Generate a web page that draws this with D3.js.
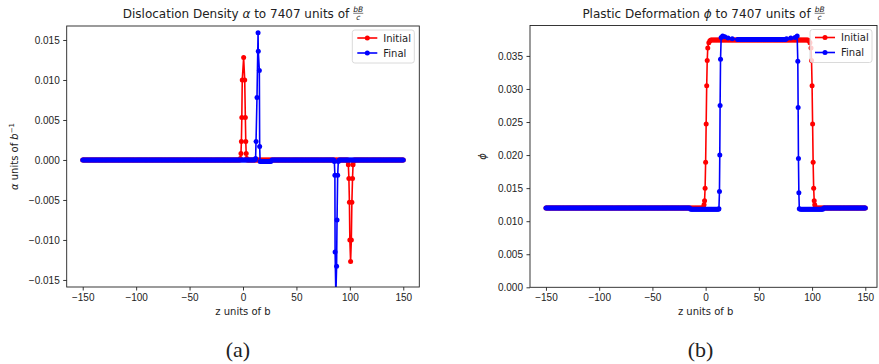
<!DOCTYPE html>
<html>
<head>
  <meta charset="utf-8">
  <title>Dislocation density and plastic deformation</title>
  <script src="https://d3js.org/d3.v7.min.js"></script>
  <style>
    body { margin: 0; background: #fff; }
    svg { font-family: "DejaVu Sans", sans-serif; color: #222; }
    .tick text { font-size: 10px; fill: #222; }
    .tick line { stroke: #222; stroke-width: 0.9; }
    .frame { fill: none; stroke: #222; stroke-width: 0.9; }
    .lbl { font-size: 10px; fill: #222; }
    .ttl { font-size: 12px; fill: #222; }
    .sub { font-family: "Liberation Serif", serif; font-size: 22px; fill: #222; }
  </style>
</head>
<body>
  <div id="chart"></div>
  <script>
    // solver grid along z (units of b)
    var zFrom = -150, zTo = 150, zStep = 1;

    var xTicks = [-150, -100, -50, 0, 50, 100, 150];
    var alphaTicks = [-0.015, -0.010, -0.005, 0.000, 0.005, 0.010, 0.015];
    var phiTicks = [0.000, 0.005, 0.010, 0.015, 0.020, 0.025, 0.030, 0.035];
    var seriesNames = ["Initial", "Final"];

    // flat stretches: [z from, z to, value]
    var alphaInitLevels = [[-150, 150, 0]];
    var alphaFinalLevels = [[-150, 16, 0], [16, 26, -0.0002], [26, 150, 0]];
    var phiInitLevels = [[-150, 0, 0.0120], [0, 100, 0.0374], [100, 150, 0.0120]];
    var phiFinalLevels = [[-150, -15, 0.0120], [-15, 12, 0.0118], [12, 87, 0.0375], [87, 110, 0.0118], [110, 150, 0.0120]];

    // spikes and steps: [z, value]
    var alphaInitUp = [[-2.5, 0.0002], [-1.9, 0.0008], [-1.5, 0.0023], [-1.1, 0.0053], [-0.7, 0.0100], [0.6, 0.0128],
                       [1.6, 0.0100], [2.2, 0.0053], [2.6, 0.0023], [3.0, 0.0008], [3.5, 0.0002]];
    var alphaInitDown = [[98.2, -0.0002], [98.6, -0.0006], [99.1, -0.0023], [99.6, -0.0053], [100.0, -0.0100], [100.7, -0.0127],
                         [101.4, -0.0100], [101.9, -0.0053], [102.5, -0.0023], [103.0, -0.0006], [103.4, -0.0002]];
    var alphaFinalUp = [[11.8, 0.0002], [12.2, 0.0023], [13.1, 0.0078], [14.1, 0.0159], [14.3, 0.0136],
                        [15.3, 0.0112], [15.6, 0.0017], [16.0, -0.0002]];
    var alphaFinalDown = [[85.5, -0.0002], [86.0, -0.0019], [86.2, -0.0115], [86.9, -0.0170], [87.6, -0.0133],
                          [88.0, -0.0075], [88.6, -0.0019], [89.2, -0.0002]];
    var phiInitRise = [[-2, 0.0121], [-1.5, 0.0125], [-1, 0.0131], [-0.5, 0.0150], [0, 0.0189], [0.5, 0.0247],
                       [1, 0.0305], [1.5, 0.0343], [2, 0.0362], [3, 0.0370], [4, 0.0373], [5, 0.0374]];
    var phiInitFall = [[96, 0.0374], [97, 0.0373], [98, 0.0370], [99, 0.0362], [99.5, 0.0343], [100, 0.0305],
                       [100.5, 0.0247], [101, 0.0189], [101.5, 0.0150], [102, 0.0131], [102.5, 0.0125], [103, 0.0121]];
    var phiFinalRise = [[12.5, 0.0119], [13, 0.0145], [13.3, 0.0200], [13.6, 0.0275], [14, 0.0345], [14.6, 0.0378],
                        [16, 0.0380], [18, 0.0379], [21, 0.0377], [25, 0.0376], [30, 0.0375]];
    var phiFinalFall = [[76, 0.0376], [80, 0.0377], [84, 0.0378], [86, 0.0380], [86.6, 0.0342], [86.9, 0.0272],
                        [87.2, 0.0195], [87.6, 0.0143], [88, 0.0119]];

    var colors = ["#ff0000", "#0000ff"];

    function buildSeries(levels, features) {
      var pts = [];
      d3.range(zFrom, zTo + zStep / 2, zStep).forEach(function(z) {
        var inside = features.some(f => z >= f[0][0] && z <= f[f.length - 1][0]);
        if (inside) return;
        var lv = levels.find(l => z >= l[0] && z <= l[1]);
        if (lv) pts.push([z, lv[2]]);
      });
      features.forEach(f => pts.push.apply(pts, f));
      return pts.sort((a, b) => a[0] - b[0]);
    }

    var svg = d3.select("#chart").append("svg")
      .attr("width", 879).attr("height", 364);

    function panel(opt) {
      var g = svg.append("g");
      var x = d3.scaleLinear().domain(opt.xDomain).range([opt.left, opt.right]);
      var y = d3.scaleLinear().domain(opt.yDomain).range([opt.bottom, opt.top]);

      var clipId = "clip" + opt.id;
      svg.append("clipPath").attr("id", clipId).append("rect")
        .attr("x", opt.left).attr("y", opt.top)
        .attr("width", opt.right - opt.left).attr("height", opt.bottom - opt.top);

      var line = d3.line().x(d => x(d[0])).y(d => y(d[1]));
      var plot = g.append("g").attr("clip-path", "url(#" + clipId + ")");
      opt.series.forEach(function(s, i) {
        plot.append("path").datum(s)
          .attr("fill", "none").attr("stroke", colors[i]).attr("stroke-width", 1.6)
          .attr("d", line);
        plot.append("g").selectAll("circle").data(s).enter().append("circle")
          .attr("cx", d => x(d[0])).attr("cy", d => y(d[1])).attr("r", 2.5)
          .attr("fill", colors[i]);
      });

      g.append("g").attr("transform", "translate(0," + opt.bottom + ")")
        .call(d3.axisBottom(x).tickValues(xTicks).tickSize(3.5).tickPadding(3.5).tickSizeOuter(0))
        .call(a => a.select(".domain").remove());
      g.append("g").attr("transform", "translate(" + opt.left + ",0)")
        .call(d3.axisLeft(y).tickValues(opt.yTicks).tickFormat(d3.format(".3f"))
          .tickSize(3.5).tickPadding(3.5).tickSizeOuter(0))
        .call(a => a.select(".domain").remove());
      g.selectAll(".tick text").attr("font-family", null);

      g.append("rect").attr("class", "frame")
        .attr("x", opt.left).attr("y", opt.top)
        .attr("width", opt.right - opt.left).attr("height", opt.bottom - opt.top);

      // legend
      var lx = opt.right - 67, ly = opt.top + 4;
      var lg = g.append("g");
      lg.append("rect").attr("x", lx).attr("y", ly).attr("width", 62).attr("height", 33)
        .attr("rx", 2.5).attr("fill", "#fff").attr("fill-opacity", 0.8)
        .attr("stroke", "#d6d6d6").attr("stroke-width", 0.9);
      seriesNames.forEach(function(n, i) {
        var yy = ly + 8 + i * 15;
        lg.append("line").attr("x1", lx + 5).attr("x2", lx + 25).attr("y1", yy).attr("y2", yy)
          .attr("stroke", colors[i]).attr("stroke-width", 1.6);
        lg.append("circle").attr("cx", lx + 15).attr("cy", yy).attr("r", 2.5).attr("fill", colors[i]);
        lg.append("text").attr("class", "lbl").attr("x", lx + 31).attr("y", yy + 3.6).text(n);
      });

      // title with a small stacked fraction bB/c
      var cx = (opt.left + opt.right) / 2;
      var t = g.append("text").attr("class", "ttl").attr("y", 18);
      t.append("tspan").text(opt.titleA);
      t.append("tspan").attr("font-style", "italic").text(opt.titleSym);
      t.append("tspan").text(" to 7407 units of");
      var w = t.node().getComputedTextLength(), gap = 4, fw = 10;
      var x0 = cx - (w + gap + fw) / 2;
      t.attr("x", x0);
      var fx = x0 + w + gap + fw / 2;
      g.append("text").attr("x", fx).attr("y", 11.5).attr("text-anchor", "middle")
        .attr("font-size", 7.5).attr("font-style", "italic").attr("fill", "#222").text("bB");
      g.append("line").attr("x1", fx - 5).attr("x2", fx + 5).attr("y1", 13.3).attr("y2", 13.3)
        .attr("stroke", "#222").attr("stroke-width", 0.6);
      g.append("text").attr("x", fx).attr("y", 19.8).attr("text-anchor", "middle")
        .attr("font-size", 7.5).attr("font-style", "italic").attr("fill", "#222").text("c");

      g.append("text").attr("class", "lbl").attr("x", x(0)).attr("y", 315)
        .attr("text-anchor", "middle").text("z units of b");

      var yl = g.append("text").attr("class", "lbl").attr("text-anchor", "middle")
        .attr("transform", "translate(" + opt.yLabelX + "," + y((opt.yDomain[0] + opt.yDomain[1]) / 2) + ") rotate(-90)");
      opt.yLabel(yl);

      g.append("text").attr("class", "sub").attr("x", x(0) - 5).attr("y", 357)
        .attr("text-anchor", "middle").text(opt.sub);
    }

    panel({
      id: "a", left: 66.7, right: 419.3, top: 26, bottom: 287,
      xDomain: [-165, 165], yDomain: [-0.01588, 0.01675], yTicks: alphaTicks,
      series: [buildSeries(alphaInitLevels, [alphaInitUp, alphaInitDown]),
               buildSeries(alphaFinalLevels, [alphaFinalUp, alphaFinalDown])],
      titleA: "Dislocation Density ", titleSym: "α",
      yLabelX: 18,
      yLabel: function(t) {
        t.append("tspan").attr("font-style", "italic").text("α");
        t.append("tspan").text(" units of ");
        t.append("tspan").attr("font-style", "italic").text("b");
        t.append("tspan").attr("font-size", 7).attr("dy", -4).text("−1");
      },
      sub: "(a)"
    });

    panel({
      id: "b", left: 530, right: 877, top: 25.5, bottom: 287.3,
      xDomain: [-165, 161], yDomain: [0, 0.0396], yTicks: phiTicks,
      series: [buildSeries(phiInitLevels, [phiInitRise, phiInitFall]),
               buildSeries(phiFinalLevels, [phiFinalRise, phiFinalFall])],
      titleA: "Plastic Deformation ", titleSym: "ϕ",
      yLabelX: 486,
      yLabel: function(t) {
        t.append("tspan").attr("font-style", "italic").text("ϕ");
      },
      sub: "(b)"
    });
  </script>
</body>
</html>
